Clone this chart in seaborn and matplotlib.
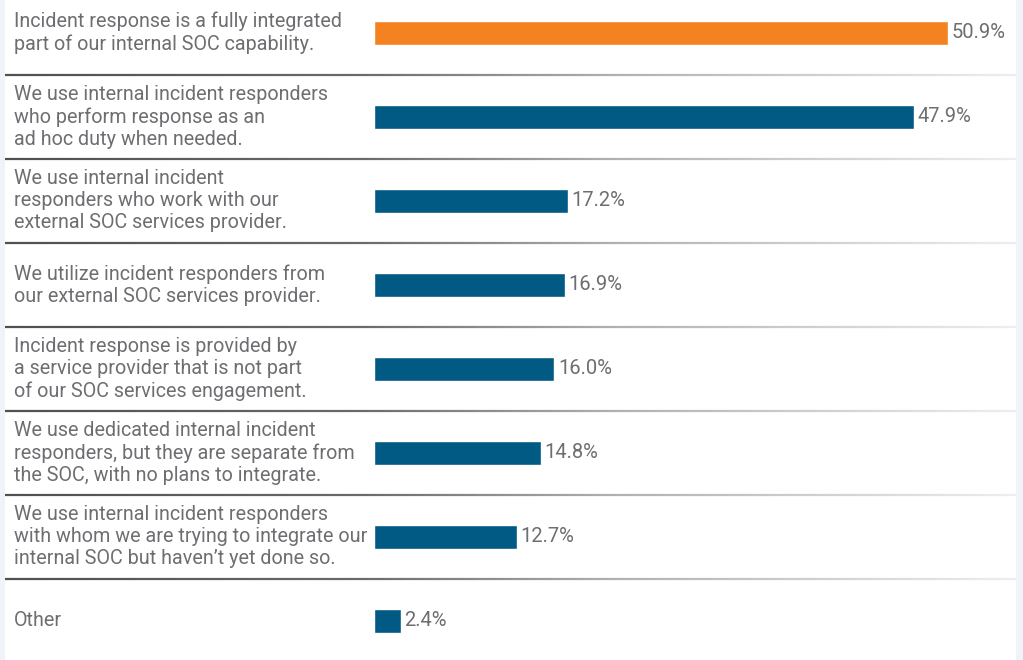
import numpy as np
import pandas as pd
import matplotlib
matplotlib.use("Agg")
import matplotlib.pyplot as plt
import seaborn as sns
from matplotlib.collections import LineCollection
from matplotlib.colors import LinearSegmentedColormap

categories = [
    "Incident response is a fully integrated\npart of our internal SOC capability.",
    "We use internal incident responders\nwho perform response as an\nad hoc duty when needed.",
    "We use internal incident\nresponders who work with our\nexternal SOC services provider.",
    "We utilize incident responders from\nour external SOC services provider.",
    "Incident response is provided by\na service provider that is not part\nof our SOC services engagement.",
    "We use dedicated internal incident\nresponders, but they are separate from\nthe SOC, with no plans to integrate.",
    "We use internal incident responders\nwith whom we are trying to integrate our\ninternal SOC but haven\u2019t yet done so.",
    "Other",
]
values = [50.9, 47.9, 17.2, 16.9, 16.0, 14.8, 12.7, 2.4]
value_labels = ["50.9%", "47.9%", "17.2%", "16.9%", "16.0%", "14.8%", "12.7%", "2.4%"]
bar_colors = ["#F58220"] + ["#005A84"] * 7

sns.set_theme(style="white")
plt.rcParams["font.family"] = ["Roboto", "DejaVu Sans"]

W, H = 1023, 660
fig = plt.figure(figsize=(W / 100, H / 100), dpi=100)
fig.patch.set_facecolor("#EEF4FA")

left_px, right_px = 5, 1016
ax = fig.add_axes([left_px / W, 0, (right_px - left_px) / W, 1])
ax.set_facecolor("white")

df = pd.DataFrame({"cat": categories, "val": values})
sns.barplot(data=df, y="cat", x="val", hue="cat", palette=bar_colors,
            order=categories, hue_order=categories, orient="h",
            width=0.286, legend=False, ax=ax, saturation=1)

pxu = 11.277  # pixels per percent
zero_px = 374
ax.set_xlim(-(zero_px - left_px) / pxu, (right_px - zero_px) / pxu)
row_px = 84
c0 = 33
ax.set_ylim((H - c0) / row_px, -c0 / row_px)

for s in ax.spines.values():
    s.set_visible(False)
ax.set_xticks([])
ax.set_yticks([])
ax.set_xlabel("")
ax.set_ylabel("")

# category labels
for i, c in enumerate(categories):
    ax.text(9 / (right_px - left_px), i, c, transform=ax.get_yaxis_transform(),
            ha="left", va="center", fontsize=14.2, color="#6D6E71",
            linespacing=1.2)

# value labels
for i, (v, lab) in enumerate(zip(values, value_labels)):
    ax.annotate(lab, xy=(v, i), xytext=(2.5, 0), textcoords="offset points",
                ha="left", va="center", fontsize=14.5, color="#6D6E71",
                family=["Roboto", "DejaVu Sans"])

# separators with gradient
cmap = LinearSegmentedColormap.from_list(
    "sep", [(0, "#505050"), (0.35, "#6a6a6a"), (0.6, "#b0b0b0"), (1, "#eeeeee")])
n = 200
xs = np.linspace(0, 1, n + 1)
for k in range(len(categories) - 1):
    y = k + 0.5
    segs = [[(xs[j], y), (xs[j + 1], y)] for j in range(n)]
    lc = LineCollection(segs, colors=cmap(xs[:-1]), linewidths=1.6,
                        transform=ax.get_yaxis_transform())
    ax.add_collection(lc)

fig.savefig("out.png", dpi=100, facecolor=fig.get_facecolor())
